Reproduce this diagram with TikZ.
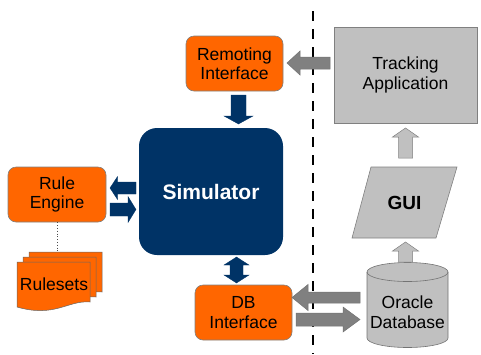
\documentclass[tikz,border=0pt]{standalone}
\usepackage{fontspec}
\setmainfont{Liberation Sans}
\definecolor{orng}{RGB}{255,102,0}
\definecolor{navy}{RGB}{0,51,102}
\definecolor{lgray}{RGB}{192,192,192}
\definecolor{agray}{RGB}{128,128,128}
% horizontal block arrow: style, x tail, x tip, y centre, body half, head half, head length
\newcommand{\hblockarrow}[7]{%
  \pgfmathsetmacro\hbase{#3-#7*sign(#3-#2)}%
  \filldraw[#1] (#2,#4-#5) -- (\hbase,#4-#5) -- (\hbase,#4-#6) -- (#3,#4)
    -- (\hbase,#4+#6) -- (\hbase,#4+#5) -- (#2,#4+#5) -- cycle;}
% vertical block arrow: style, y tail, y tip, x centre, body half, head half, head length
\newcommand{\vblockarrow}[7]{%
  \pgfmathsetmacro\vbase{#3-#7*sign(#3-#2)}%
  \filldraw[#1] (#4-#5,#2) -- (#4-#5,\vbase) -- (#4-#6,\vbase) -- (#4,#3)
    -- (#4+#6,\vbase) -- (#4+#5,\vbase) -- (#4+#5,#2) -- cycle;}
\begin{document}
\begin{tikzpicture}[x=1pt,y=-1pt,
  lbl/.style={font=\fontsize{17.5}{19.5}\selectfont, align=center, inner sep=0pt},
  orangebox/.style={lbl, draw=black!50, fill=orng, rounded corners=8pt, line width=0.6pt,
    minimum width=97pt, minimum height=55pt},
  simbox/.style={fill=navy, rounded corners=18pt, minimum width=144pt, minimum height=127pt,
    text=white, font=\fontsize{21}{24}\selectfont\bfseries, inner sep=0pt},
  graybox/.style={lbl, draw=black!50, fill=lgray, line width=0.6pt},
  bluearrow/.style={fill=navy, draw=navy, line width=0.3pt},
  grayarrow/.style={fill=agray, draw=black!55, line width=0.5pt},
  lightarrow/.style={fill=lgray, draw=black!50, line width=0.5pt},
  docshape/.style={fill=orng, draw=black!60, line width=0.5pt},
  divider/.style={line width=2.6pt, dash pattern=on 10pt off 8pt}]
\useasboundingbox (0,0) rectangle (481,354);

% divider
\coordinate (dtop) at (313,11);
\coordinate (dbot) at (313,354);
\draw[divider] (dtop) -- (dbot);

% boxes
\node[orangebox] (remote) at (234.5,63.5) {Remoting\\Interface};
\node[orangebox, minimum width=98pt] (rule) at (57,194.5) {Rule\\Engine};
\node[orangebox] (db) at (243.5,312.5) {DB\\Interface};
\node[simbox] (sim) at (211,191.5) {Simulator};
\node[graybox, minimum width=143pt, minimum height=96pt] (track) at (405.5,75) {Tracking\\Application};

% GUI parallelogram
\filldraw[fill=lgray, draw=black!50, line width=0.6pt] (371,167) -- (457,167) -- (436,238) -- (352,238) -- cycle;
\node[font=\fontsize{19}{22}\selectfont\bfseries, inner sep=0pt] (gui) at (404.5,202.5) {GUI};

% Oracle cylinder
\filldraw[fill=lgray, draw=black!55, line width=0.6pt]
  (367,272) -- (367,338) arc[start angle=180, end angle=360, x radius=40.5, y radius=-9.5]
  -- (448,272) arc[start angle=0, end angle=180, x radius=40.5, y radius=-9.5] -- cycle;
\draw[black!55, line width=0.6pt] (367,272) arc[start angle=180, end angle=360, x radius=40.5, y radius=-9.5];
\node[lbl] (oracle) at (407.5,312) {Oracle\\Database};

% Rulesets (stacked documents)
\foreach \dx/\dy in {12/-10, 6/-5, 0/0}{
  \begin{scope}[shift={(\dx,\dy)}]
    \filldraw[docshape] (17,262) -- (90,262) -- (90,302)
      .. controls (68,300) and (55,318) .. (17,307) -- cycle;
  \end{scope}
}
\node[lbl] (rulesets) at (54,284) {Rulesets};
\coordinate (rstop) at (57,252);
\draw[black!70, line width=0.8pt, dotted] (rule.south) -- (rstop);

% arrows
\hblockarrow{grayarrow}{330}{287}{63}{6}{12}{13}
\vblockarrow{bluearrow}{95}{124}{238.5}{7.5}{14.5}{8}
\hblockarrow{bluearrow}{136}{110}{188}{6}{11.5}{7.5}
\hblockarrow{bluearrow}{110}{136}{209.5}{6.5}{13}{8}
% double arrow simulator <-> db
\filldraw[bluearrow] (230,265) -- (224,265) -- (236.5,257) -- (249,265) -- (243,265)
  -- (243,275) -- (249,275) -- (236.5,283) -- (224,275) -- (230,275) -- cycle;
\hblockarrow{grayarrow}{360}{292}{297.5}{5.5}{13}{16}
\hblockarrow{grayarrow}{296}{360}{319.5}{6.5}{12.5}{17}
\vblockarrow{lightarrow}{158}{128}{405.5}{7}{13}{9}
\vblockarrow{lightarrow}{262}{242}{405.5}{7}{13}{9}
\end{tikzpicture}
\end{document}
